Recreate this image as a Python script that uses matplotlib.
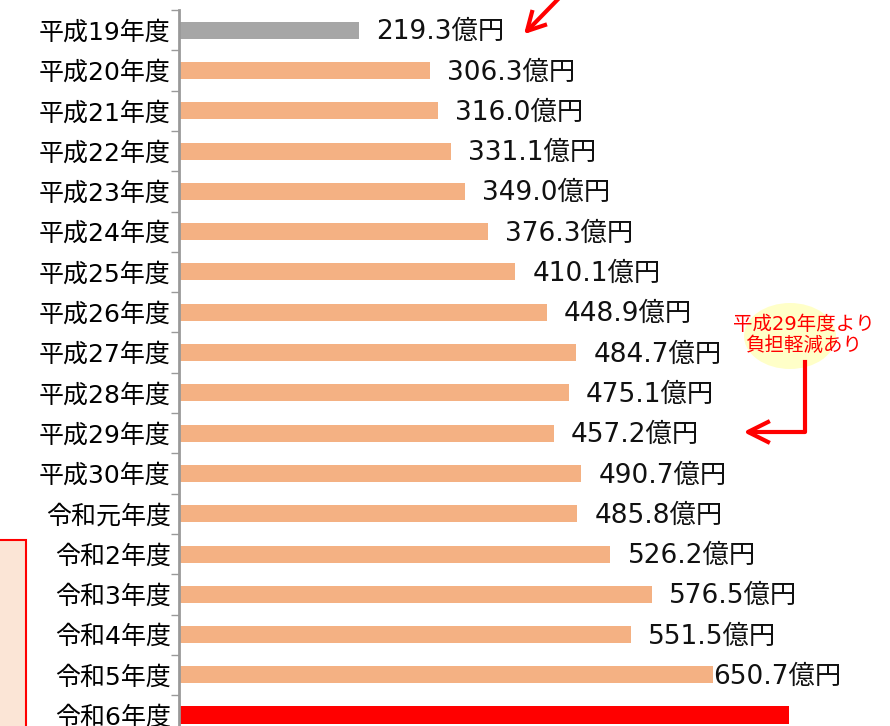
import matplotlib
matplotlib.use('Agg')
import matplotlib.pyplot as plt
from matplotlib.patches import Ellipse, Rectangle

# DejaVu for the wide digits, Noto CJK for the kanji
plt.rcParams['font.family'] = ['DejaVu Sans', 'Noto Sans CJK JP']

years = ['平成19年度', '平成20年度', '平成21年度', '平成22年度', '平成23年度', '平成24年度',
         '平成25年度', '平成26年度', '平成27年度', '平成28年度', '平成29年度', '平成30年度',
         '令和元年度', '令和2年度', '令和3年度', '令和4年度', '令和5年度', '令和6年度']
values = [219.3, 306.3, 316.0, 331.1, 349.0, 376.3, 410.1, 448.9, 484.7, 475.1,
          457.2, 490.7, 485.8, 526.2, 576.5, 551.5, 650.7, 744.0]
labels = [f'{v:.1f}億円' for v in values[:-1]]
note = '平成29年度より\n負担軽減あり'

W, H = 890, 726
fig = plt.figure(figsize=(8.9, 7.26), dpi=100)

# axes: left edge at x=179px, top at y=10px, runs past the bottom of the picture
ax = fig.add_axes([179 / W, 0, 1 - 179 / W, 716 / H])
px_per_row = 40.3

colors = ['#A6A6A6'] + ['#F4B183'] * 16 + ['#FF0000']
heights = [0.42] * 17 + [0.45]
ax.barh(range(len(years)), values, height=heights, color=colors)

for i, (v, lab) in enumerate(zip(values[:-1], labels)):
    off = 17 if i < 16 else 1
    ax.annotate(lab, (v, i), xytext=(off, -2), textcoords='offset pixels',
                va='center', ha='left', fontsize=19, color='#111111')

# partially visible large label for the last bar
ax.annotate(f'{values[-1]:.1f}億円', (values[-1], 17), xytext=(12, -40), textcoords='offset pixels',
            va='top', ha='right', fontsize=34, fontweight='bold', color='#111111',
            annotation_clip=False)

ax.set_yticks(range(len(years)))
ax.set_yticklabels(years, fontsize=18)
ax.tick_params(axis='y', which='major', length=0, pad=6)
ax.set_yticks([i - 0.5 for i in range(len(years))], minor=True)
ax.tick_params(axis='y', which='minor', length=6, width=1, color='#999999')
ax.set_xticks([])
ax.set_ylim(-0.5 + 716 / px_per_row, -0.5)
ax.set_xlim(0, 711 / 0.82)
for s in ['top', 'right', 'bottom']:
    ax.spines[s].set_visible(False)
ax.spines['left'].set_color('#999999')
ax.spines['left'].set_linewidth(2)


def fx(x):
    return x / W


def fy(y):
    return 1 - y / H


# note bubble and arrows (figure coordinates)
fig.patches.append(Ellipse((fx(790), fy(336)), 92 / W, 66 / H, transform=fig.transFigure,
                           facecolor='#FFFFC8', edgecolor='none', zorder=1))
fig.text(fx(804), fy(335), note, color='#FF0000', fontsize=14, ha='center', va='center',
         linespacing=1.1, zorder=2)
fig.add_artist(plt.Line2D([fx(805), fx(805), fx(750)], [fy(362), fy(432), fy(432)],
                          transform=fig.transFigure, color='#FF0000', lw=3))
fig.add_artist(plt.Line2D([fx(768), fx(748), fx(768)], [fy(422), fy(432), fy(442)],
                          transform=fig.transFigure, color='#FF0000', lw=3))
fig.add_artist(plt.Line2D([fx(565), fx(528)], [fy(-8), fy(30)],
                          transform=fig.transFigure, color='#FF0000', lw=3))
fig.add_artist(plt.Line2D([fx(532), fx(527), fx(545)], [fy(12), fy(31), fy(25)],
                          transform=fig.transFigure, color='#FF0000', lw=3))

# box at the left edge
fig.patches.append(Rectangle((fx(-10), fy(740)), 36 / W, 200 / H, transform=fig.transFigure,
                             facecolor='#FBE5D6', edgecolor='#FF0000', lw=1.5, zorder=0))

fig.savefig('out.png', dpi=100)
